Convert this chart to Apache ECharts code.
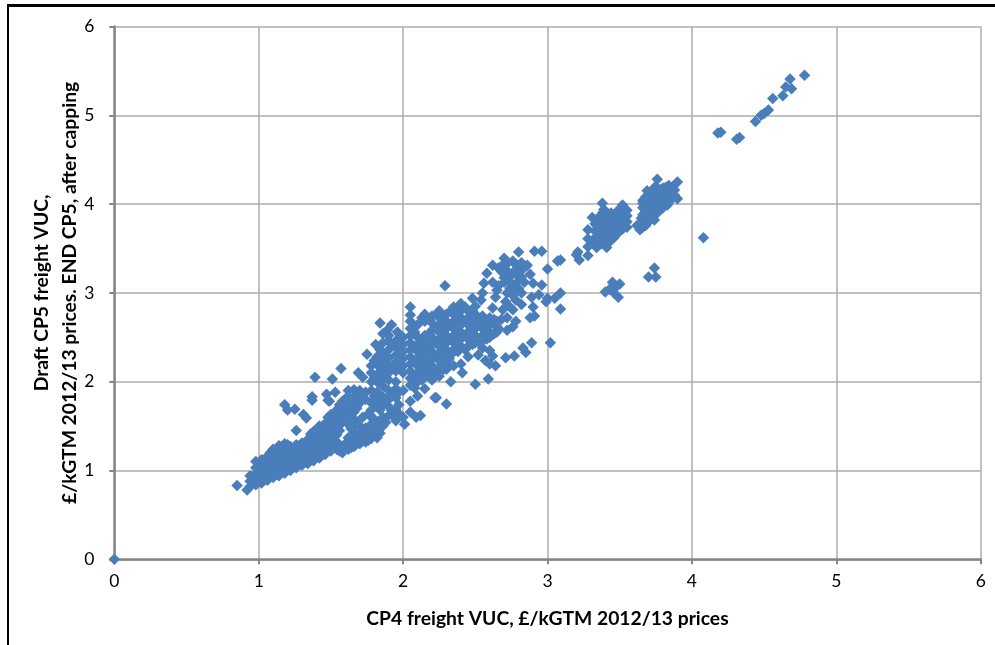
<!DOCTYPE html>
<html><head><meta charset="utf-8">
<script src="https://cdn.jsdelivr.net/npm/echarts@6/dist/echarts.min.js"></script>
<style>html,body{margin:0;padding:0;background:#fff}#c{width:995px;height:645px}</style>
</head><body><div id="c"></div>
<script>
const xTitle = 'CP4 freight VUC, £/kGTM 2012/13 prices';
const yTitle = 'Draft CP5 freight VUC,\n£/kGTM 2012/13 prices. END CP5, after capping';
const origin = [[0,0]];
// outlying points and edges, [CP4, CP5]
const topTail = [[4.78,5.45],[4.68,5.41],[4.65,5.32],[4.69,5.3],[4.63,5.22],[4.56,5.19],[4.53,5.06],[4.5,5.02],[4.48,5.0],[4.44,4.93],[4.33,4.75],[4.31,4.73],[4.18,4.8],[4.2,4.81],[4.08,3.62]];
const lowClusters = [[3.45,3.12],[3.4,3.01],[3.5,3.1],[3.46,3.0],[3.49,2.95],[3.43,3.04],[3.47,3.06],[3.74,3.28],[3.7,3.18],[3.75,3.18]];
const cluster34Edge = [[3.38,4.01],[3.39,3.94],[3.52,3.99],[3.49,3.93],[3.31,3.85],[3.55,3.74],[3.41,3.51],[3.34,3.51],[3.28,3.71],[3.28,3.61],[3.28,3.52],[3.28,3.42],[3.21,3.46],[3.2,3.43],[3.22,3.37],[3.09,3.37],[3.31,3.58],[3.37,3.55]];
const cluster34 = [[3.36,[3.62,3.7,3.78,3.85]],[3.4,[3.58,3.66,3.74,3.82,3.9]],[3.44,[3.6,3.68,3.76,3.84,3.9]],[3.48,[3.66,3.74,3.82,3.88]],[3.52,[3.72,3.8,3.86,3.93]],[3.55,[3.8,3.87,3.93]],[3.33,[3.78,3.7,3.62]],[3.34,[3.6,3.68,3.76,3.83]],[3.38,[3.6,3.68,3.76,3.84,3.9]],[3.42,[3.56,3.64,3.72,3.8,3.88]],[3.46,[3.62,3.7,3.78,3.86]],[3.5,[3.7,3.78,3.84,3.9]]];
const cluster37Edge = [[3.76,4.28],[3.75,4.2],[3.9,4.25],[3.69,4.15],[3.62,3.76],[3.64,3.71],[3.9,4.06],[3.83,3.99],[3.74,3.82],[3.66,4.01],[3.87,4.2]];
const cluster37 = [[3.65,[3.78,3.84]],[3.68,[3.76,3.84,3.92,4.0,4.08]],[3.72,[3.84,3.92,4.0,4.08,4.14]],[3.76,[3.9,3.98,4.06,4.13]],[3.8,[3.96,4.04,4.1,4.18]],[3.84,[4.02,4.08,4.14,4.21]],[3.88,[4.1,4.16]],[3.66,[3.74,3.8,3.88,3.96,4.04]],[3.7,[3.8,3.88,3.96,4.04,4.11]],[3.74,[3.88,3.96,4.04,4.12,4.18]],[3.78,[3.94,4.02,4.08,4.16]],[3.82,[4.0,4.06,4.12,4.19]],[3.86,[4.06,4.12,4.18]]];
const upperBand = [[2.8,3.46],[2.91,3.47],[2.96,3.47],[3.07,3.36],[3.0,3.27],[2.62,3.31],[2.58,3.22],[2.56,3.11],[2.62,3.12],[2.7,3.39],[2.72,3.33],[2.76,3.36],[2.72,3.25],[2.78,3.22],[2.83,3.27],[2.86,3.31],[2.88,3.21],[2.7,3.17],[2.74,3.12],[2.8,3.14],[2.84,3.12],[2.9,3.11],[2.96,3.09],[2.74,3.05],[2.76,2.97],[2.71,2.9],[2.74,2.84],[2.78,2.92],[2.65,3.03],[2.55,3.0],[2.48,2.94],[2.5,2.85],[2.54,2.92],[2.64,2.95],[2.62,2.83],[2.82,3.0],[2.82,2.87],[2.89,2.95],[2.94,2.98],[2.99,2.9],[3.0,2.94],[3.05,2.94],[3.09,3.0],[3.09,2.82],[2.9,2.84],[2.88,2.72],[2.91,2.74],[2.69,2.81],[2.76,2.81],[2.72,2.72],[2.76,2.62],[2.66,2.6],[2.72,2.58],[2.68,2.7],[2.78,2.68],[3.02,2.44],[2.89,2.44],[2.83,2.38],[2.85,2.33],[2.77,2.29],[2.71,2.27],[2.62,2.29],[2.64,2.18],[2.55,2.38],[2.57,2.24],[2.6,2.2],[2.59,2.03],[2.5,1.97],[2.41,2.1],[2.32,2.26],[2.33,2.0],[2.23,1.82],[2.3,1.75],[2.12,1.62],[2.09,1.6],[2.29,3.08],[2.6,2.35],[2.52,2.3],[2.68,3.3],[2.75,3.2],[2.8,3.3],[2.68,3.24],[2.76,3.08],[2.72,3.0],[2.8,3.05]];
const upperFillColumns = [[2.7,[3.12,3.22,3.3]],[2.78,[3.06,3.26,3.32]],[2.82,[3.18,3.34]],[2.66,[3.08,3.28]]];
const leftOutliers = [[0.85,0.83],[0.92,0.78],[1.18,1.74],[1.2,1.68],[1.25,1.69],[1.33,1.59],[1.31,1.63],[1.26,1.45],[1.37,1.79],[1.48,1.79],[1.39,2.05],[1.51,2.03],[1.57,2.15],[1.37,1.83],[1.47,1.86],[1.49,1.78],[1.53,1.88],[1.69,2.1],[1.72,2.05],[1.75,2.31],[1.81,2.42],[1.84,2.66],[1.92,2.64],[1.96,2.56],[1.89,2.58],[2.01,1.52],[1.97,1.74],[1.93,1.62],[2.22,1.82],[1.96,2.38]];
const lowerBandColumns = [
[0.94,[0.82,0.88,0.94]],[0.98,[0.84,0.91,0.97,1.03,1.1]],[1.02,[0.86,0.93,1.0,1.06,1.12]],[1.06,[0.89,0.95,1.02,1.09,1.16]],[1.1,[0.92,0.99,1.05,1.12,1.19,1.24]],[1.14,[0.94,1.01,1.08,1.15,1.22,1.28]],[1.18,[0.97,1.04,1.11,1.18,1.25,1.3]],[1.22,[1.0,1.07,1.14,1.2,1.27]],[1.26,[1.03,1.09,1.16,1.22,1.29]],[1.3,[1.06,1.12,1.18,1.25,1.31]],[1.34,[1.08,1.15,1.21,1.28,1.35]],[1.38,[1.11,1.18,1.25,1.31,1.38,1.44]],[1.42,[1.14,1.21,1.28,1.34,1.42,1.5]],[1.46,[1.18,1.24,1.31,1.38,1.46,1.53]],[1.5,[1.22,1.29,1.36,1.43,1.5,1.57,1.63]],[1.54,[1.24,1.32,1.4,1.48,1.55,1.62,1.68]],[1.58,[1.2,1.27,1.54,1.62,1.7,1.78]],[1.62,[1.24,1.31,1.37,1.52,1.6,1.68,1.76,1.84,1.9]],[1.66,[1.27,1.35,1.43,1.5,1.58,1.66,1.74,1.82,1.91]],[1.7,[1.3,1.42,1.5,1.76,1.9]],[1.74,[1.32,1.4,1.48,1.8,1.88]],[1.78,[1.36,1.44,1.52,1.6,1.68,1.76,1.9,2.0,2.1,2.18]],[1.82,[1.37,1.46,1.54,1.72,1.8,1.88,2.0,2.08,2.2,2.28]],[1.86,[1.5,1.6,1.74,1.83,1.95,2.03,2.12,2.22,2.32,2.44,2.54]],[1.9,[1.62,1.72,1.8,1.9,2.02,2.1,2.18,2.27,2.36,2.46,2.52]],[1.95,[1.56,1.68,1.82,1.92,2.0,2.12,2.22,2.3,2.46]]
];
const lowerFillColumns = [[1.0,[.88,.94,1.0,1.07]],[1.04,[.9,.97,1.04,1.1]],[1.08,[.93,1.0,1.07,1.14,1.2]],[1.12,[.96,1.03,1.1,1.17,1.24]],[1.16,[.99,1.06,1.13,1.2,1.27]],[1.2,[1.02,1.09,1.16,1.23,1.29]],[1.24,[1.05,1.11,1.18,1.25]],[1.28,[1.08,1.14,1.21,1.28]],[1.32,[1.1,1.16,1.23,1.3]],[1.36,[1.13,1.2,1.27,1.34,1.41]],[1.4,[1.16,1.23,1.3,1.37,1.44]],[1.44,[1.2,1.27,1.34,1.41,1.48]],[1.48,[1.24,1.31,1.38,1.45,1.52,1.6]],[1.52,[1.27,1.34,1.42,1.5,1.58,1.64]],[1.56,[1.22,1.29,1.45,1.52,1.6,1.66,1.74]],[1.6,[1.24,1.3,1.64,1.8]],[1.64,[1.26,1.33,1.47,1.63,1.79]],[1.68,[1.3,1.38,1.54,1.7,1.86]],[1.72,[1.34,1.44,1.6,1.82]],[1.76,[1.34,1.48,1.64]],[1.8,[1.4,1.58,1.84,2.04,2.24]],[1.84,[1.42,1.68,1.98,2.16,2.36]],[1.88,[1.54,1.78,2.06,2.24]],[1.92,[1.68,1.86,2.14,2.42]],[1.97,[1.64,1.88,2.16,2.36]]];
const mainMassColumns = [
[2.0,[1.6,1.9,2.1,2.18,2.26,2.34,2.42,2.5]],[2.05,[1.66,1.78,1.96,2.04,2.12,2.2,2.28,2.36,2.44,2.52,2.6,2.68,2.75,2.84]],[2.1,[1.84,2.0,2.1,2.18,2.26,2.34,2.42,2.5,2.64]],[2.15,[1.92,2.06,2.14,2.22,2.3,2.38,2.46,2.52,2.68,2.76]],[2.2,[2.02,2.1,2.18,2.26,2.34,2.42,2.5,2.58,2.66,2.74]],[2.25,[2.06,2.16,2.24,2.32,2.4,2.48,2.56,2.64,2.72,2.8]],[2.3,[2.14,2.2,2.28,2.36,2.44,2.52,2.6,2.68,2.76]],[2.35,[2.18,2.36,2.44,2.52,2.6,2.68,2.76,2.84]],[2.4,[2.2,2.4,2.48,2.56,2.64,2.72,2.8,2.88]],[2.45,[2.28,2.4,2.48,2.56,2.64,2.72,2.8]],[2.5,[2.44,2.52,2.6,2.68,2.76]],[2.55,[2.46,2.52,2.6,2.66,2.74]],[2.6,[2.5,2.56,2.64,2.72]],[2.65,[2.56,2.62,2.68]],
[2.08,[1.93,2.06,2.22,2.38,2.56]],[2.13,[2.02,2.18,2.34,2.42,2.72]],[2.18,[2.06,2.22,2.38,2.54,2.7]],[2.23,[2.1,2.28,2.44,2.6,2.76]],[2.28,[2.14,2.32,2.48,2.64,2.72]],[2.33,[2.3,2.48,2.64,2.8]],[2.38,[2.34,2.52,2.68,2.84]],[2.43,[2.36,2.52,2.68,2.84]],[2.48,[2.42,2.56,2.72,2.8]],[2.53,[2.44,2.64,2.7]],[2.58,[2.48,2.68]],[2.63,[2.54,2.66,2.7]]
];
const pts = c => c.flatMap(([x, ys]) => ys.map(y => [x, y]));
const data = [...origin, ...topTail, ...lowClusters, ...cluster34Edge, ...pts(cluster34), ...cluster37Edge, ...pts(cluster37), ...upperBand, ...pts(upperFillColumns), ...leftOutliers, ...pts(lowerBandColumns), ...pts(lowerFillColumns), ...pts(mainMassColumns)];
const fontFamily = 'Lato, Carlito, sans-serif';
const chart = echarts.init(document.getElementById('c'), null, {renderer:'canvas'});
const axisCommon = {
  type:'value', min:0, max:6, interval:1, nameLocation:'middle', nameMoveOverlap:false,
  nameTextStyle:{fontFamily, fontWeight:'bold', fontSize:19.3, color:'#000', lineHeight:28},
  axisLabel:{fontFamily, fontSize:17.5, color:'#000'},
  axisLine:{show:true, onZero:false, lineStyle:{color:'#868686', width:2.5}},
  axisTick:{show:true, length:5, lineStyle:{color:'#868686', width:2}},
  splitLine:{show:true, lineStyle:{color:'#adadad', width:1.5}}
};
chart.setOption({
  animation:false, backgroundColor:'#fff',
  grid:{left:114.3, right:14.3, top:26.5, bottom:85.7, outerBoundsMode:'none'},
  xAxis:{...axisCommon, name:xTitle, nameGap:45, axisLabel:{...axisCommon.axisLabel, margin:13}},
  yAxis:{...axisCommon, name:yTitle, nameGap:31, nameRotate:90, axisLabel:{...axisCommon.axisLabel, margin:20}},
  series:[{type:'scatter', data, symbol:'diamond', symbolSize:11.5, itemStyle:{color:'#4a7ebb', opacity:1}, clip:false}],
  graphic:[
    {type:'rect', shape:{x:7,y:4,width:988,height:3}, style:{fill:'#000'}},
    {type:'rect', shape:{x:7,y:4,width:2,height:641}, style:{fill:'#000'}}
  ]
});
</script></body></html>
